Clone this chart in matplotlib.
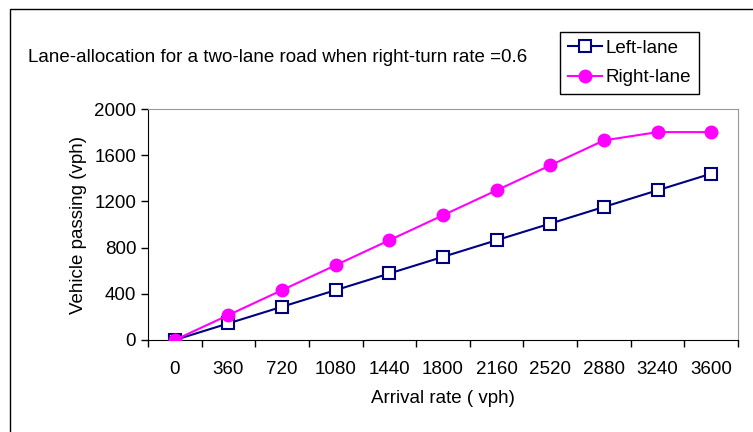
import matplotlib
matplotlib.use("Agg")
import matplotlib.pyplot as plt
from matplotlib.patches import Rectangle

arrival = ["0", "360", "720", "1080", "1440", "1800", "2160", "2520", "2880", "3240", "3600"]
left_lane = [0, 144, 288, 432, 576, 720, 864, 1008, 1152, 1296, 1440]
right_lane = [0, 216, 432, 648, 864, 1080, 1296, 1512, 1728, 1800, 1800]
y_ticks = [0, 400, 800, 1200, 1600, 2000]

NAVY = "#000080"; MAGENTA = "#FF00FF"
FS = 13.5

plt.rcParams.update({"font.family": ["Liberation Sans", "DejaVu Sans"]})
fig = plt.figure(figsize=(7.53, 4.32), dpi=100)
ax = fig.add_axes([148/753, 1 - 340/432, 590/753, 231/432])

x = list(range(len(arrival)))
ax.plot(x, left_lane, color=NAVY, lw=1.5, marker="s", ms=8, mfc="white",
        mec=NAVY, mew=1.5, label="Left-lane", zorder=3)
ax.plot(x, right_lane, color=MAGENTA, lw=1.5, marker="o", ms=9, mfc=MAGENTA,
        mec=MAGENTA, label="Right-lane", zorder=3)

ax.set_xlim(-0.5, len(arrival) - 0.5)
ax.set_ylim(0, 2000)
ax.set_yticks(y_ticks)
ax.set_yticklabels([str(v) for v in y_ticks], fontsize=FS)
ax.set_xticks(x)
ax.set_xticklabels(arrival, fontsize=FS)
ax.set_xticks([i - 0.5 for i in range(len(arrival) + 1)], minor=True)
ax.tick_params(axis="x", which="major", length=0, pad=15)
ax.tick_params(axis="x", which="minor", length=5, width=1, direction="out")
ax.tick_params(axis="y", length=5, width=1, direction="out", pad=3.5)

for s in ("top", "right"):
    ax.spines[s].set_color("#999999")
for s in ("left", "bottom"):
    ax.spines[s].set_color("black")

ax.set_xlabel("Arrival rate ( vph)", fontsize=FS, labelpad=9)
ax.set_ylabel("Vehicle passing (vph)", fontsize=FS, labelpad=5)

fig.text(28/753, 1 - 58/432, "Lane-allocation for a two-lane road when right-turn rate =0.6",
         ha="left", va="center", fontsize=FS)

leg = fig.legend(loc="upper left", bbox_to_anchor=(560/753, 1 - 32/432), fontsize=FS,
                 frameon=True, fancybox=False, edgecolor="black", framealpha=1,
                 handlelength=1.8, handletextpad=0.2, borderpad=0.42, labelspacing=0.65,
                 borderaxespad=0)
leg.get_frame().set_linewidth(1)

fig.patches.append(Rectangle((10/753, -0.01), 1.0, 1 - 9/432 + 0.01, transform=fig.transFigure,
                             fill=False, edgecolor="black", linewidth=1))

fig.savefig("out.png", dpi=100)
